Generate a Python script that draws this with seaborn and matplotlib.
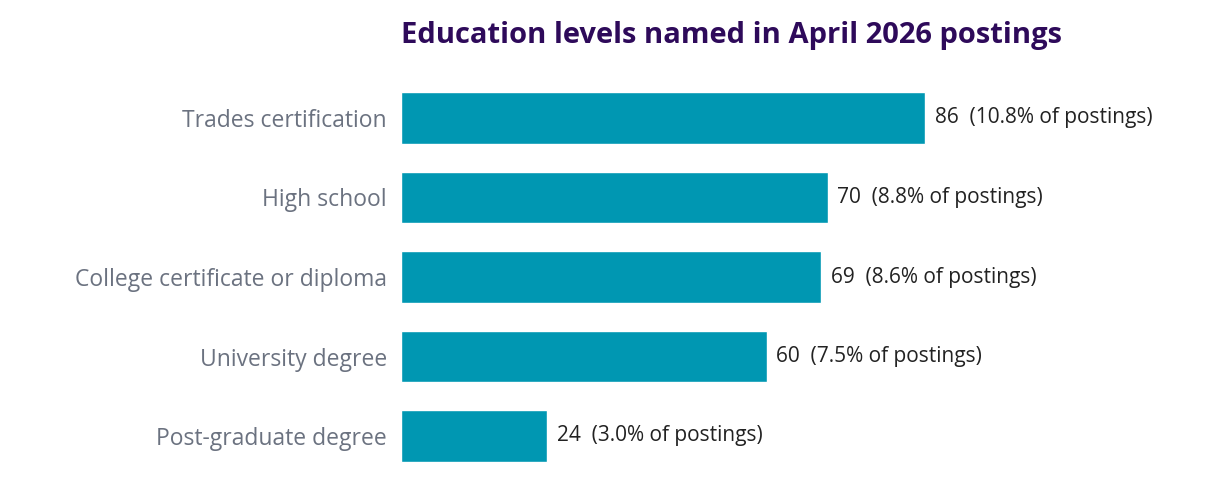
"""horizontal bar chart of education levels in postings"""

import seaborn as sns
import matplotlib.pyplot as plt

levels = ["Trades certification", "High school", "College certificate or diploma",
          "University degree", "Post-graduate degree"]
counts = [86, 70, 69, 60, 24]
shares = [10.8, 8.8, 8.6, 7.5, 3.0]

sns.set_style("white")
plt.rcParams["font.family"] = ["Open Sans", "DejaVu Sans"]

fig = plt.figure(figsize=(12.15, 5), dpi=100)
ax = fig.add_axes([401 / 1215, 0.0485, 799 / 1215, 0.795])

sns.barplot(x=counts, y=levels, color="#0097b2", width=0.65, saturation=1, ax=ax)

# value labels to the right of each bar
for i, (c, s) in enumerate(zip(counts, shares)):
    ax.text(c + 1.6, i, f"{c}  ({s:.1f}% of postings)", va="center", ha="left",
            fontsize=15, color="#222222")

ax.set_xlim(0, 799 / 6.093)
ax.set_ylim(4.5, -0.5)
ax.set_xticks([])
ax.set_xlabel("")
ax.set_ylabel("")
ax.tick_params(axis="y", length=0, labelsize=16.5, labelcolor="#6b7280", pad=10)
sns.despine(ax=ax, left=True, bottom=True)

fig.text(401 / 1215, 1 - 35 / 500, "Education levels named in April 2026 postings",
         ha="left", va="center", fontsize=21, fontweight="bold", color="#2e0a5a")

fig.savefig("out.png", dpi=100)
plt.close(fig)
